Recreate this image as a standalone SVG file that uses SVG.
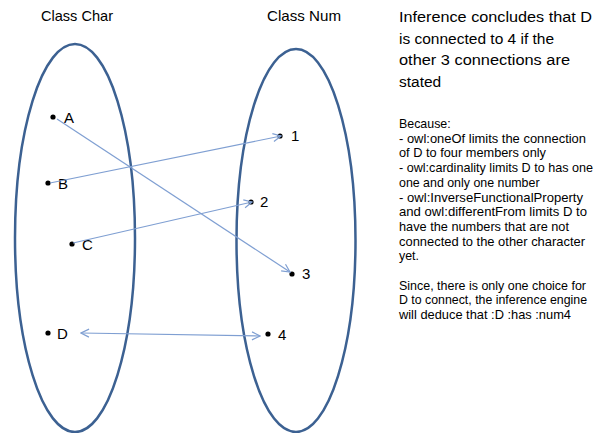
<svg xmlns="http://www.w3.org/2000/svg" width="598" height="433" viewBox="0 0 598 433">
  <style>
    text { font-family: "Liberation Sans", Arial, sans-serif; fill: #000; }
    .title { font-size: 15px; }
    .label { font-size: 15px; }
    .head { font-size: 15.5px; }
    .body { font-size: 12.4px; }
    .set { fill: none; stroke: #3c6192; stroke-width: 2.5; }
    .dot { fill: #000; }
    .link { fill: none; stroke: #7f9fd2; stroke-width: 1.2; }
  </style>
  <defs>
    <marker id="open-arrow" markerWidth="10" markerHeight="10" refX="9" refY="5" orient="auto-start-reverse" markerUnits="userSpaceOnUse">
      <path d="M1,1 L9,5 L1,9" fill="none" stroke="#7f9fd2" stroke-width="1.2"/>
    </marker>
  </defs>
  <rect width="598" height="433" fill="#fff"/>

  <!-- set of characters -->
  <g id="class-char">
    <text class="title" x="41" y="21" textLength="72" lengthAdjust="spacingAndGlyphs">Class Char</text>
    <ellipse class="set" cx="75" cy="238" rx="60" ry="194"/>
  </g>

  <!-- set of numbers -->
  <g id="class-num">
    <text class="title" x="267" y="21" textLength="74" lengthAdjust="spacingAndGlyphs">Class Num</text>
    <ellipse class="set" cx="296" cy="240.5" rx="59.5" ry="191.5"/>
  </g>

  <g id="node-A"><circle class="dot" cx="53" cy="117" r="2.6"/><text class="label" x="64" y="123">A</text></g>
  <g id="node-B"><circle class="dot" cx="48" cy="183" r="2.6"/><text class="label" x="58" y="189">B</text></g>
  <g id="node-C"><circle class="dot" cx="72" cy="244" r="2.6"/><text class="label" x="82" y="250">C</text></g>
  <g id="node-D"><circle class="dot" cx="48" cy="333" r="2.6"/><text class="label" x="57" y="339">D</text></g>

  <g id="node-1"><circle class="dot" cx="280" cy="136" r="2.6"/><text class="label" x="291" y="141">1</text></g>
  <g id="node-2"><circle class="dot" cx="251" cy="202" r="2.6"/><text class="label" x="260" y="207">2</text></g>
  <g id="node-3"><circle class="dot" cx="292" cy="274" r="2.6"/><text class="label" x="302" y="279">3</text></g>
  <g id="node-4"><circle class="dot" cx="268" cy="334" r="2.6"/><text class="label" x="278" y="340">4</text></g>

  <!-- connections -->
  <g id="connectors">
    <line class="link" x1="57" y1="119" x2="290" y2="272" marker-end="url(#open-arrow)"/>
    <line class="link" x1="50" y1="183" x2="281" y2="136" marker-end="url(#open-arrow)"/>
    <line class="link" x1="73" y1="243" x2="252" y2="202" marker-end="url(#open-arrow)"/>
    <line class="link" x1="81" y1="333" x2="260" y2="336" marker-start="url(#open-arrow)" marker-end="url(#open-arrow)"/>
  </g>

  <!-- explanation -->
  <g id="conclusion">
    <text class="head" x="399" y="22" textLength="193" lengthAdjust="spacingAndGlyphs">Inference concludes that D</text>
    <text class="head" x="399" y="44">is connected to 4 if the</text>
    <text class="head" x="399" y="65" textLength="171" lengthAdjust="spacingAndGlyphs">other 3 connections are</text>
    <text class="head" x="399" y="87">stated</text>
  </g>

  <g id="reasoning">
    <text class="body" x="399" y="128">Because:</text>
    <text class="body" x="399" y="142.7" textLength="187" lengthAdjust="spacingAndGlyphs">- owl:oneOf limits the connection</text>
    <text class="body" x="399" y="157.4" textLength="147" lengthAdjust="spacingAndGlyphs">of D to four members only</text>
    <text class="body" x="399" y="172.1" textLength="194" lengthAdjust="spacingAndGlyphs">- owl:cardinality limits  D to has one</text>
    <text class="body" x="399" y="186.8">one and only one number</text>
    <text class="body" x="399" y="201.5" textLength="184" lengthAdjust="spacingAndGlyphs">- owl:InverseFunctionalProperty</text>
    <text class="body" x="399" y="216.2" textLength="188" lengthAdjust="spacingAndGlyphs">and owl:differentFrom limits D to</text>
    <text class="body" x="399" y="230.9" textLength="170" lengthAdjust="spacingAndGlyphs">have the numbers that are not</text>
    <text class="body" x="399" y="245.6" textLength="186" lengthAdjust="spacingAndGlyphs">connected to the other character</text>
    <text class="body" x="399" y="260.3">yet.</text>
    <text class="body" x="399" y="289.7" textLength="187" lengthAdjust="spacingAndGlyphs">Since, there is only one choice for</text>
    <text class="body" x="399" y="304.4" textLength="188" lengthAdjust="spacingAndGlyphs">D to connect, the inference engine</text>
    <text class="body" x="399" y="319.1" textLength="172" lengthAdjust="spacingAndGlyphs">will deduce that :D :has :num4</text>
  </g>
</svg>
